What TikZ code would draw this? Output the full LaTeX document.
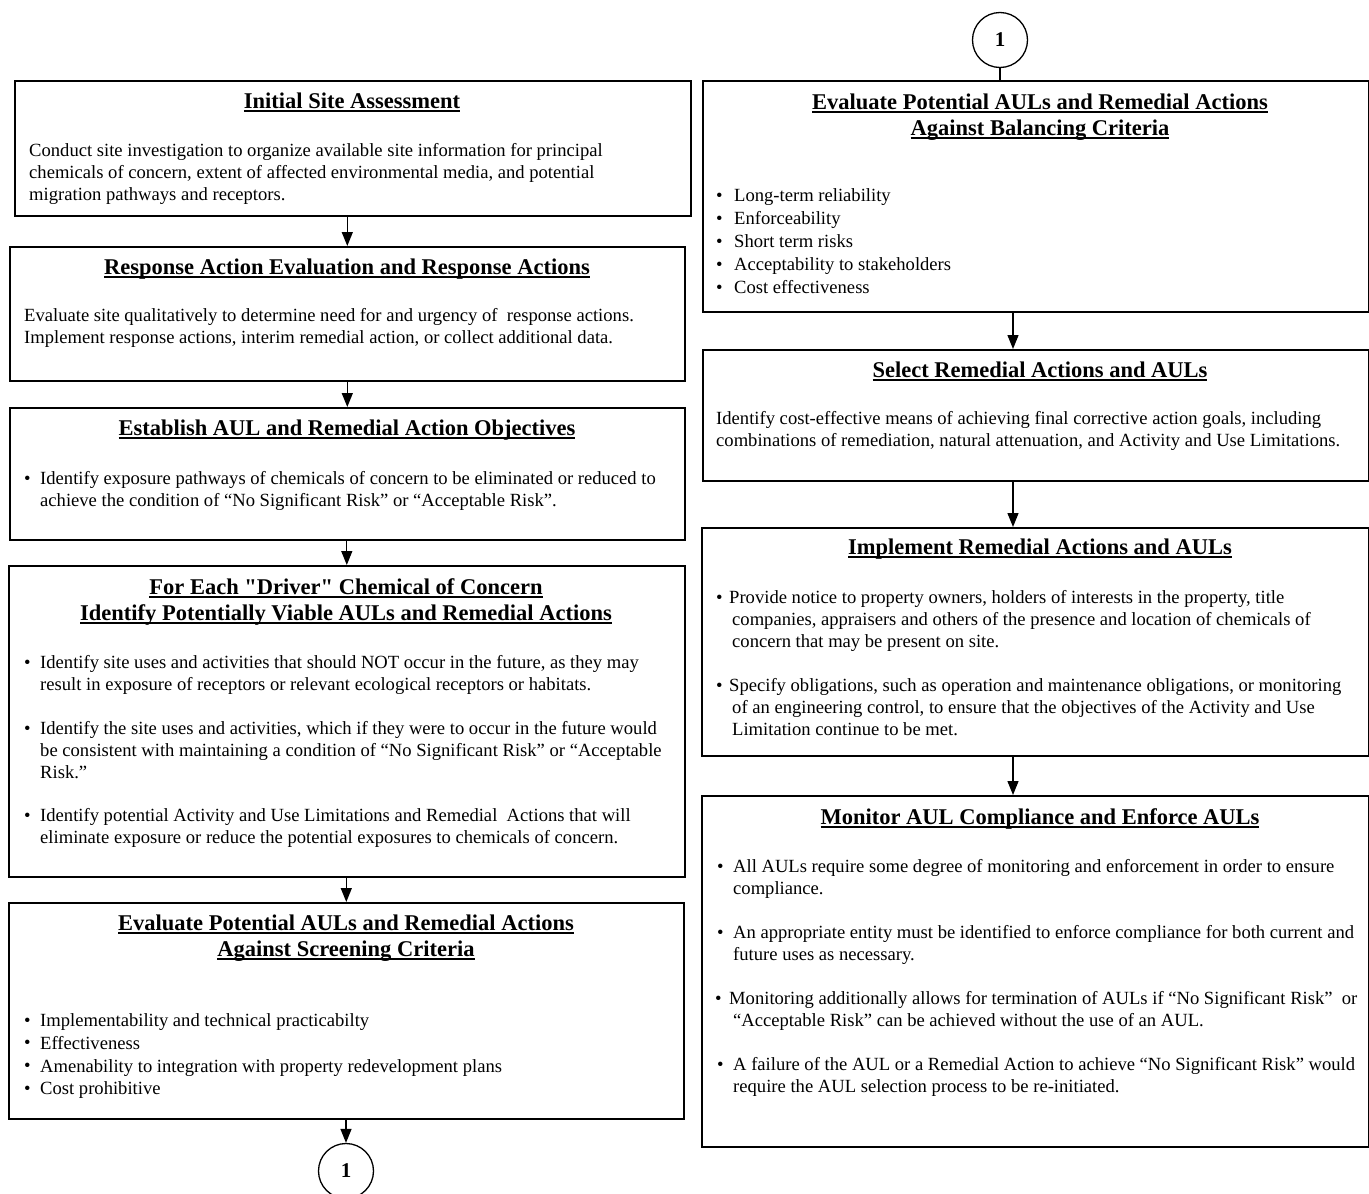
\documentclass[tikz,border=0pt]{standalone}
\usepackage{fontspec}
\setmainfont{Liberation Serif}
\usetikzlibrary{arrows.meta}
\newcommand\myul[1]{\setbox0=\hbox{#1}\leavevmode\rlap{\rule[-3.6pt]{\wd0}{1.5pt}}\box0}
\begin{document}
\begin{tikzpicture}[x=1pt,y=-1pt,
  box/.style={draw, line width=1.6pt, rectangle, anchor=north west, inner sep=0},
  txt/.style={anchor=north west, inner sep=0, align=left, font=\fontsize{18.6}{22}\selectfont},
  txtb/.style={txt, font=\fontsize{18.6}{22.7}\selectfont},
  txtc/.style={txt, font=\fontsize{18.6}{23}\selectfont},
  bul/.style={anchor=north west, inner sep=0, font=\fontsize{18.6}{22}\selectfont},
  ttl/.style={anchor=north, inner sep=0, align=center, font=\fontsize{22.5}{26}\selectfont\bfseries},
  arr/.style={line width=1.3pt, -{Triangle[width=11pt,length=14pt]}},
  ln/.style={line width=1.3pt},
  conn/.style={draw, circle, line width=1.3pt, minimum size=55pt, inner sep=0, font=\fontsize{21}{24}\selectfont\bfseries}
]
\useasboundingbox (0,0) rectangle (1369,1194);

% ---------- left column ----------
\node[box, minimum width=676pt, minimum height=135pt] (b1) at (14,80) {};
\node[ttl] (t1) at (352,89.8) {\strut\myul{Initial Site Assessment}};
\node[txt] (x1) at (29,140.6) {\strut Conduct site investigation to organize available site information for principal\\
chemicals of concern, extent of affected environmental media, and potential\\
migration pathways and receptors.};

\node[box, minimum width=675pt, minimum height=134pt] (b2) at (9,246) {};
\node[ttl] (t2) at (347,255.8) {\strut\myul{Response Action Evaluation and Response Actions}};
\node[txt] (x2) at (24,305.6) {\strut Evaluate site qualitatively to determine need for and urgency of\ \ response actions.\\
Implement response actions, interim remedial action, or collect additional data.};

\node[box, minimum width=675pt, minimum height=132pt] (b3) at (9,407) {};
\node[ttl] (t3) at (347,416.8) {\strut\myul{Establish AUL and Remedial Action Objectives}};
\node[bul] (u31) at (24,468.6) {\strut\textbullet};
\node[txt] (x31) at (40,468.6) {\strut Identify exposure pathways of chemicals of concern to be eliminated or reduced to\\
achieve the condition of “No Significant Risk” or “Acceptable Risk”.};

\node[box, minimum width=676pt, minimum height=311pt] (b4) at (8,565) {};
\node[ttl] (t4) at (346,575.8) {\strut\myul{For Each \textquotedbl Driver\textquotedbl\ Chemical of Concern}\\\myul{Identify Potentially Viable AULs and Remedial Actions}};
\node[bul] (u41) at (24,652.6) {\strut\textbullet};
\node[txt] (x41) at (40,652.6) {\strut Identify site uses and activities that should NOT occur in the future, as they may\\
result in exposure of receptors or relevant ecological receptors or habitats.};
\node[bul] (u42) at (24,718.6) {\strut\textbullet};
\node[txt] (x42) at (40,718.6) {\strut Identify the site uses and activities, which if they were to occur in the future would\\
be consistent with maintaining a condition of “No Significant Risk” or “Acceptable\\
Risk.”};
\node[bul] (u43) at (24,805.6) {\strut\textbullet};
\node[txt] (x43) at (40,805.6) {\strut Identify potential Activity and Use Limitations and Remedial\ \ Actions that will\\
eliminate exposure or reduce the potential exposures to chemicals of concern.};

\node[box, minimum width=675pt, minimum height=216pt] (b5) at (8,902) {};
\node[ttl] (t5) at (346,911.8) {\strut\myul{Evaluate Potential AULs and Remedial Actions}\\\myul{Against Screening Criteria}};
\node[bul] (u51) at (24,1010.6) {\strut\textbullet};
\node[bul] (u52) at (24,1033.3) {\strut\textbullet};
\node[bul] (u53) at (24,1056.0) {\strut\textbullet};
\node[bul] (u54) at (24,1078.7) {\strut\textbullet};
\node[txtb] (x5) at (40,1010.6) {\strut Implementability and technical practicabilty\\
Effectiveness\\
Amenability to integration with property redevelopment plans\\
Cost prohibitive};

\node[conn] (c1) at (346,1171) {1};

% ---------- right column ----------
\node[conn] (c2) at (1000,40) {1};

\node[box, minimum width=666pt, minimum height=231pt] (b6) at (702,80) {};
\node[ttl] (t6) at (1040,90.8) {\strut\myul{Evaluate Potential AULs and Remedial Actions}\\\myul{Against Balancing Criteria}};
\node[bul] (u61) at (716,185.6) {\strut\textbullet};
\node[bul] (u62) at (716,208.6) {\strut\textbullet};
\node[bul] (u63) at (716,231.6) {\strut\textbullet};
\node[bul] (u64) at (716,254.6) {\strut\textbullet};
\node[bul] (u65) at (716,277.6) {\strut\textbullet};
\node[txtc] (x6) at (734,185.6) {\strut Long-term reliability\\
Enforceability\\
Short term risks\\
Acceptability to stakeholders\\
Cost effectiveness};

\node[box, minimum width=666pt, minimum height=131pt] (b7) at (702,349) {};
\node[ttl] (t7) at (1040,358.8) {\strut\myul{Select Remedial Actions and AULs}};
\node[txt] (x7) at (716,408.6) {\strut Identify cost-effective means of achieving final corrective action goals, including\\
combinations of remediation, natural attenuation, and Activity and Use Limitations.};

\node[box, minimum width=667pt, minimum height=228pt] (b8) at (701,527) {};
\node[ttl] (t8) at (1040,535.8) {\strut\myul{Implement Remedial Actions and AULs}};
\node[bul] (u81) at (716,587.6) {\strut\textbullet};
\node[txt] (x81) at (729,587.6) {\strut Provide notice to property owners, holders of interests in the property, title\\
\hspace*{3pt}companies, appraisers and others of the presence and location of chemicals of\\
\hspace*{3pt}concern that may be present on site.};
\node[bul] (u82) at (716,675.6) {\strut\textbullet};
\node[txt] (x82) at (729,675.6) {\strut Specify obligations, such as operation and maintenance obligations, or monitoring\\
\hspace*{3pt}of an engineering control, to ensure that the objectives of the Activity and Use\\
\hspace*{3pt}Limitation continue to be met.};

\node[box, minimum width=667pt, minimum height=351pt] (b9) at (701,795) {};
\node[ttl] (t9) at (1040,805.8) {\strut\myul{Monitor AUL Compliance and Enforce AULs}};
\node[bul] (u91) at (717,856.6) {\strut\textbullet};
\node[txt] (x91) at (733,856.6) {\strut All AULs require some degree of monitoring and enforcement in order to ensure\\
compliance.};
\node[bul] (u92) at (717,922.6) {\strut\textbullet};
\node[txt] (x92) at (733,922.6) {\strut An appropriate entity must be identified to enforce compliance for both current and\\
future uses as necessary.};
\node[bul] (u93) at (715,988.6) {\strut\textbullet};
\node[txt] (x93) at (729,988.6) {\strut Monitoring additionally allows for termination of AULs if “No Significant Risk”\ \ or\\
\hspace*{4pt}“Acceptable Risk” can be achieved without the use of an AUL.};
\node[bul] (u94) at (717,1054.6) {\strut\textbullet};
\node[txt] (x94) at (733,1054.6) {\strut A failure of the AUL or a Remedial Action to achieve “No Significant Risk” would\\
require the AUL selection process to be re-initiated.};

% ---------- connectors ----------
\coordinate (rx) at (1013,0);
\draw[arr] (b2.north |- b1.south) -- (b2.north);
\draw[arr] (b3.north |- b2.south) -- (b3.north);
\draw[arr] (b4.north |- b3.south) -- (b4.north);
\draw[arr] (b5.north |- b4.south) -- (b5.north);
\draw[arr] (c1.north |- b5.south) -- (c1.north);
\draw[ln] (c2.south) -- (c2.south |- b6.north);
\draw[arr] (b6.south -| rx) -- (b7.north -| rx);
\draw[arr] (b7.south -| rx) -- (b8.north -| rx);
\draw[arr] (b8.south -| rx) -- (b9.north -| rx);
\end{tikzpicture}
\end{document}
